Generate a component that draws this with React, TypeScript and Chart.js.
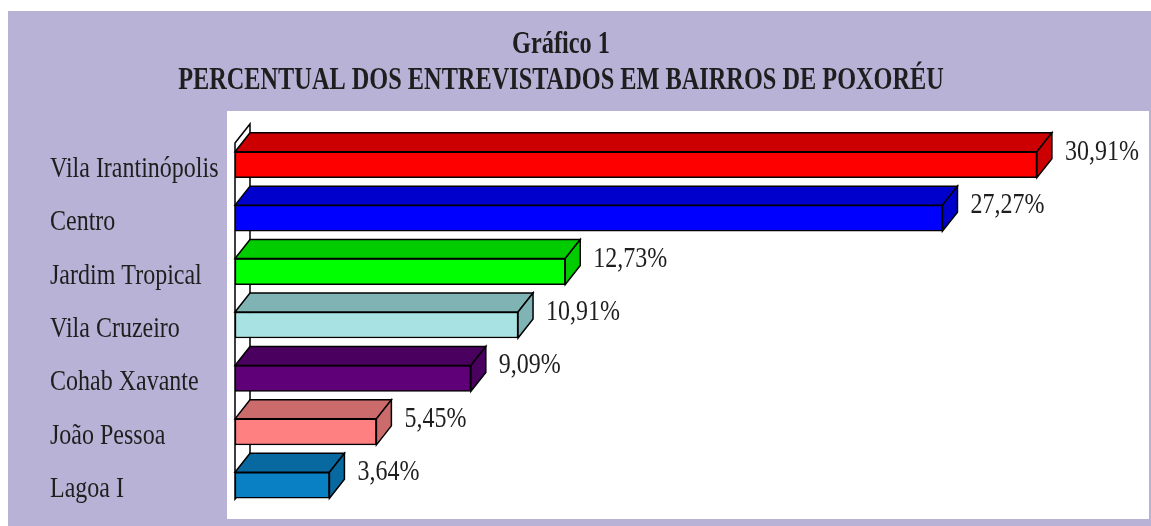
import React, { useEffect, useRef } from "react";
import { Chart, registerables } from "chart.js";

Chart.register(...registerables);

const titleLines = ["Gráfico 1", "PERCENTUAL DOS ENTREVISTADOS EM BAIRROS DE POXORÉU"];
const categories = [
  "Vila Irantinópolis",
  "Centro",
  "Jardim Tropical",
  "Vila Cruzeiro",
  "Cohab Xavante",
  "João Pessoa",
  "Lagoa I",
];
const values = [30.91, 27.27, 12.73, 10.91, 9.09, 5.45, 3.64];
const frontColors = ["#ff0000", "#0000ff", "#00ff00", "#a8e2e2", "#600078", "#ff8080", "#0a80c4"];
const depthColors = ["#cc0000", "#0000cc", "#00cc00", "#80b3b3", "#4a005e", "#cc6b6b", "#0868a0"];

const DX = 15;
const DY = 19;
const SQ = 0.8;
const SQ_TITLE = 0.76;
const FONT = "'Liberation Serif', 'Times New Roman', serif";

function squeezedText(
  ctx: CanvasRenderingContext2D,
  text: string,
  x: number,
  y: number,
  align: "left" | "center",
  sq: number
) {
  ctx.save();
  ctx.translate(x, y);
  ctx.scale(sq, 1);
  ctx.textAlign = align;
  ctx.textBaseline = "alphabetic";
  ctx.fillText(text, 0, 0);
  ctx.restore();
}

const fancyPlugin = {
  id: "fancy3d",
  beforeDraw(chart: any) {
    const ctx = chart.ctx as CanvasRenderingContext2D;
    ctx.save();
    ctx.fillStyle = "#ffffff";
    ctx.fillRect(0, 0, chart.width, chart.height);
    ctx.fillStyle = "#b8b2d6";
    ctx.fillRect(8, 11, chart.width - 8, chart.height - 11);
    ctx.fillStyle = "#ffffff";
    ctx.fillRect(227, 111, 922, 408);
    ctx.fillStyle = "#1e1e1e";
    ctx.font = `bold 32px ${FONT}`;
    squeezedText(ctx, titleLines[0], 561, 53, "center", SQ_TITLE);
    squeezedText(ctx, titleLines[1], 561, 89, "center", SQ_TITLE);
    ctx.restore();
  },
  beforeDatasetsDraw(chart: any) {
    const ctx = chart.ctx as CanvasRenderingContext2D;
    const area = chart.chartArea;
    const x0 = chart.scales.x.getPixelForValue(0);
    const top = area.top + 5;
    const bottom = area.bottom - 13;
    ctx.save();
    ctx.beginPath();
    ctx.moveTo(x0, top);
    ctx.lineTo(x0 + DX, top - DY);
    ctx.lineTo(x0 + DX, bottom - DY);
    ctx.lineTo(x0, bottom);
    ctx.closePath();
    ctx.fillStyle = "#ffffff";
    ctx.fill();
    ctx.lineWidth = 1.5;
    ctx.strokeStyle = "#000";
    ctx.stroke();
    ctx.restore();
  },
  afterDatasetsDraw(chart: any) {
    const ctx = chart.ctx as CanvasRenderingContext2D;
    const meta = chart.getDatasetMeta(0);
    ctx.save();
    ctx.lineWidth = 1.5;
    ctx.strokeStyle = "#000";
    ctx.lineJoin = "miter";
    meta.data.forEach((bar: any, i: number) => {
      const p = bar.getProps(["x", "y", "base", "height"], true);
      const x1 = p.x;
      const xs = p.base;
      const t = p.y - p.height / 2;
      const b = p.y + p.height / 2;
      ctx.fillStyle = depthColors[i];
      // top face
      ctx.beginPath();
      ctx.moveTo(xs, t);
      ctx.lineTo(xs + DX, t - DY);
      ctx.lineTo(x1 + DX, t - DY);
      ctx.lineTo(x1, t);
      ctx.closePath();
      ctx.fill();
      ctx.stroke();
      // side face
      ctx.beginPath();
      ctx.moveTo(x1, t);
      ctx.lineTo(x1 + DX, t - DY);
      ctx.lineTo(x1 + DX, b - DY);
      ctx.lineTo(x1, b);
      ctx.closePath();
      ctx.fill();
      ctx.stroke();
      // value label
      ctx.fillStyle = "#1e1e1e";
      ctx.font = `30px ${FONT}`;
      const label = values[i].toFixed(2).replace(".", ",") + "%";
      squeezedText(ctx, label, x1 + DX + 13, p.y - 5, "left", SQ);
      // category label
      squeezedText(ctx, categories[i], 50, p.y + 12, "left", SQ);
    });
    ctx.restore();
  },
};

export default function App() {
  const ref = useRef<HTMLCanvasElement | null>(null);
  useEffect(() => {
    if (!ref.current) return;
    const chart = new Chart(ref.current, {
      type: "bar",
      data: {
        labels: categories,
        datasets: [
          {
            data: values,
            backgroundColor: frontColors,
            borderColor: "#000000",
            borderWidth: 1.5,
            borderSkipped: false,
            barThickness: 26,
          },
        ],
      },
      options: {
        indexAxis: "y",
        responsive: false,
        animation: false,
        events: [],
        layout: { padding: { left: 235, right: 8, top: 138, bottom: 14 } },
        scales: {
          x: { display: false, min: 0, max: 35 },
          y: { display: false },
        },
        plugins: {
          legend: { display: false },
          title: { display: false },
          tooltip: { enabled: false },
        },
      },
      plugins: [fancyPlugin],
    });
    return () => chart.destroy();
  }, []);
  return (
    <div style={{ position: "absolute", left: 0, top: 0, width: 1151, height: 526 }}>
      <canvas ref={ref} width={1151} height={526} style={{ display: "block" }} />
    </div>
  );
}
